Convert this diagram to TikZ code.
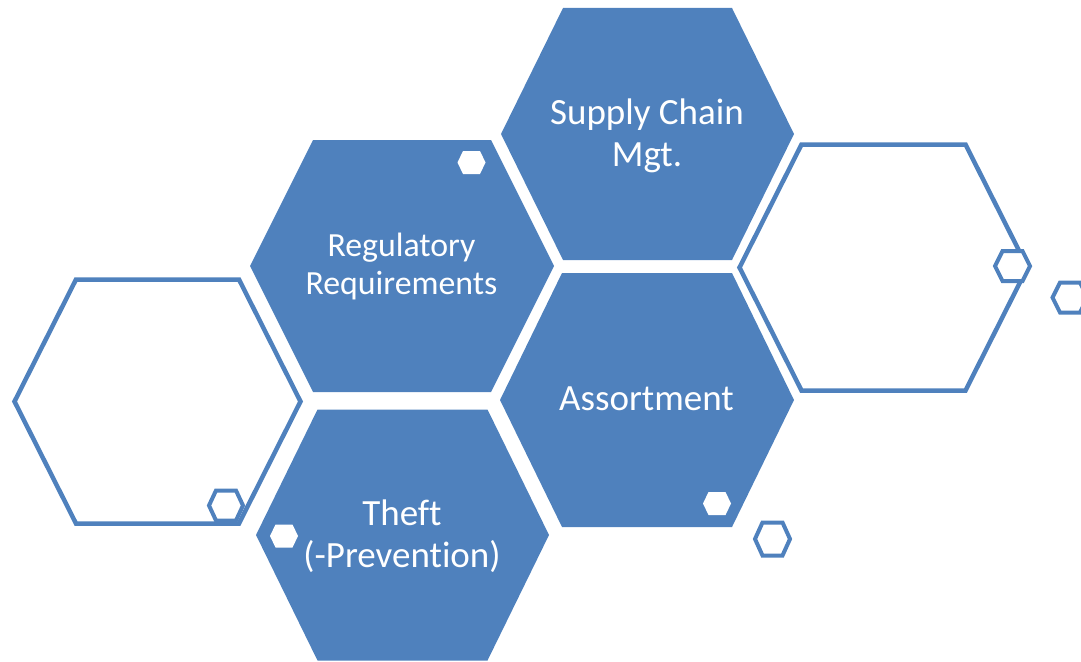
\documentclass[tikz,border=0pt]{standalone}
\usepackage{fontspec}
\setmainfont{Carlito}[Ligatures=NoCommon]
\definecolor{hexblue}{HTML}{4F81BD}
% style, cx, cy, half width, half top edge, half height
\newcommand{\hexshape}[6]{\path[#1] ({#2-#4},{#3}) -- ({#2-#5},{#3-#6}) -- ({#2+#5},{#3-#6}) -- ({#2+#4},{#3}) -- ({#2+#5},{#3+#6}) -- ({#2-#5},{#3+#6}) -- cycle;}
\begin{document}
\begin{tikzpicture}[x=1pt,y=-1pt,
  bigfill/.style={fill=hexblue},
  bigline/.style={draw=hexblue, line width=4.5pt},
  smallline/.style={draw=hexblue, fill=white, line width=4pt},
  smallfill/.style={fill=white},
  hextext/.style={text=white, align=center, anchor=base, inner sep=0pt, font=\fontsize{37}{41.5}\selectfont},
  hextextsm/.style={hextext, font=\fontsize{33.8}{37.5}\selectfont}]
\useasboundingbox (0,0) rectangle (1081,661);
% outline hexagons
\hexshape{bigline}{157.5}{401.5}{143}{81.5}{122}
\hexshape{smallline}{226}{505.5}{17}{10}{15}
\hexshape{bigline}{883.5}{267.5}{144}{82}{123}
\hexshape{smallline}{1012.5}{266}{17.5}{10}{15}
\hexshape{smallline}{1070}{297.5}{17.5}{10}{15}
% filled hexagons
\hexshape{bigfill}{647.5}{134}{146.5}{84.5}{126}
\hexshape{bigfill}{402}{266}{152}{89}{126}
\hexshape{bigfill}{647}{400}{147}{85}{127}
\hexshape{bigfill}{402.5}{535}{146.5}{85}{125.5}
% small white hexagons
\hexshape{smallfill}{471.5}{162.5}{14}{8.5}{11.5}
\hexshape{smallfill}{717}{503.5}{14}{8.5}{11.5}
\hexshape{smallfill}{284}{536}{14}{8.5}{11.5}
\hexshape{smallline}{772.5}{539}{17.5}{10}{16.5}
% texts (base anchor = baseline of last line)
\node[hextext] (supply) at (647,166) {Supply Chain\\Mgt.};
\node[hextextsm] (regul) at (401.5,294) {Regulatory\\Requirements};
\node[hextext] (assort) at (646.5,410.7) {Assortment};
\node[hextext] (theft) at (402,567.3) {Theft\\(-Prevention)};
\end{tikzpicture}
\end{document}
